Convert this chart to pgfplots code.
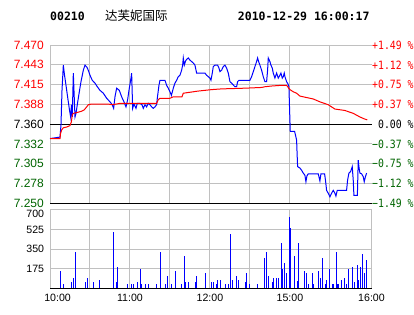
\documentclass[border=0pt]{standalone}
\usepackage{fontspec}
\setmainfont{Liberation Sans}
\newfontfamily\monotitle{DejaVu Sans Mono}
\newfontfamily\monoright{DejaVu Sans Mono}[FakeStretch=0.86]
\newfontfamily\cjk{Noto Sans CJK SC}
\usepackage{pgfplots}
\pgfplotsset{compat=1.18}
\definecolor{gridgray}{RGB}{192,192,192}
\definecolor{dgreen}{RGB}{0,100,0}
\definecolor{pred}{RGB}{255,0,0}
\definecolor{pblue}{RGB}{0,0,255}
\begin{document}
\begin{tikzpicture}
\useasboundingbox (0pt,0pt) rectangle (414pt,-314pt);
\node[anchor=base west, inner sep=0pt, font=\monotitle\bfseries\fontsize{11.5}{12}\selectfont] at (50pt,-20.7pt) {00210};
\node[anchor=base west, inner sep=0pt, font=\cjk\fontsize{12.5}{13}\selectfont] at (105pt,-20.7pt) {达芙妮国际};
\node[anchor=base west, inner sep=0pt, font=\monotitle\bfseries\fontsize{11.5}{12}\selectfont] at (237.7pt,-20.7pt) {2010-12-29 16:00:17};

% main price chart
\begin{axis}[
  at={(50pt,-203.3pt)}, anchor=south west,
  scale only axis, width=321.5pt, height=158.3pt,
  xmin=0, xmax=241.2, ymin=7.25, ymax=7.47,
  xtick={0,30,...,210}, xticklabels={},
  ytick={7.25,7.2775,7.305,7.3325,7.36,7.3875,7.415,7.4425,7.47},
  yticklabels={{\textcolor{dgreen}{7.250}},{\textcolor{dgreen}{7.278}},{\textcolor{dgreen}{7.305}},{\textcolor{dgreen}{7.332}},{\textcolor{black}{7.360}},{\textcolor{pred}{7.388}},{\textcolor{pred}{7.415}},{\textcolor{pred}{7.443}},{\textcolor{pred}{7.470}}},
  yticklabel style={font=\fontsize{12}{12}\selectfont, anchor=east, inner sep=0pt, xshift=-6pt},
  grid=major, major grid style={draw=gridgray, line width=1pt},
  axis line style={draw=none}, major tick length=0pt, tick style={draw=none},
  clip=false,
]
\addplot[black, line width=1pt] coordinates {(0,7.25) (241.2,7.25)};
\addplot[black, line width=1pt] coordinates {(0,7.36) (241.2,7.36)};
\addplot[pblue, line width=1pt] coordinates {
(0,7.340) (7.5,7.342) (8.25,7.359) (9,7.407) (10,7.442) (10.9,7.428) (12,7.414) (13.5,7.394) (14.6,7.380) (15.5,7.370) (16.1,7.387) (16.7,7.370) (17.5,7.431) (18.75,7.370) (19.5,7.375) (20.8,7.391) (22,7.405) (23.25,7.419) (25,7.435) (26.25,7.442) (27.75,7.439) (28.7,7.435) (30,7.428) (31.7,7.421) (33.75,7.417) (35.5,7.412) (37.5,7.407) (40,7.403) (42.5,7.396) (45,7.391) (46.7,7.387) (47.75,7.382) (48.75,7.398) (50,7.410) (52,7.407) (53.75,7.398) (55.5,7.391) (57,7.384) (58.25,7.394) (59.25,7.407) (60.75,7.424) (61.25,7.431) (62,7.382) (63,7.388) (64.5,7.382) (65.5,7.389) (67.5,7.389) (69,7.387) (70,7.382) (71.25,7.387) (72.5,7.384) (73.7,7.389) (75,7.387) (76.25,7.384) (77.5,7.382) (78.75,7.384) (80,7.387) (80.5,7.396) (81.75,7.414) (82.5,7.421) (86.25,7.421) (87.5,7.414) (88.75,7.410) (90,7.405) (91.1,7.400) (92.5,7.410) (93.75,7.417) (95,7.421) (96.25,7.426) (97.5,7.428) (98.75,7.435) (99.5,7.442) (100,7.452) (100.75,7.442) (101.75,7.448) (102.5,7.450) (103.75,7.452) (105,7.449) (106.25,7.447) (107.5,7.445) (108.75,7.442) (110,7.431) (116.25,7.431) (117.5,7.428) (118.75,7.426) (120,7.424) (120.75,7.421) (121.75,7.431) (122.5,7.440) (123.75,7.442) (125.75,7.442) (126.75,7.438) (127.5,7.433) (128.75,7.435) (130,7.440) (131.25,7.442) (132.5,7.438) (133.75,7.431) (135,7.419) (136.25,7.417) (138.75,7.412) (140,7.412) (140.75,7.419) (141.75,7.421) (150,7.421) (151.25,7.426) (152.5,7.433) (153.75,7.440) (155,7.447) (155.75,7.452) (156.5,7.447) (157.5,7.442) (158.75,7.435) (160,7.426) (161.25,7.419) (162.5,7.419) (163.25,7.435) (163.75,7.452) (165,7.447) (165.75,7.442) (166.75,7.438) (167.5,7.431) (168.75,7.424) (170,7.431) (171.25,7.424) (172.5,7.428) (173.25,7.431) (174.25,7.424) (175,7.426) (175.75,7.431) (176.25,7.426) (177.5,7.419) (178.5,7.416) (179.25,7.412) (179.75,7.380) (180.25,7.350) (183.5,7.350) (185,7.338) (185.75,7.301) (187.5,7.299) (188.75,7.296) (190,7.292) (191.25,7.289) (192,7.280) (192.75,7.288) (193.75,7.291) (201.25,7.291) (202.5,7.281) (203.25,7.291) (206,7.291) (206.75,7.281) (207.5,7.268) (208.75,7.264) (210,7.259) (211.25,7.264) (212.5,7.268) (213.75,7.264) (214.5,7.260) (215.5,7.268) (222.5,7.268) (223.25,7.282) (224.25,7.292) (225.5,7.294) (226.75,7.301) (227.5,7.282) (228,7.261) (230.6,7.261) (231.25,7.310) (231.75,7.301) (232.5,7.292) (233.75,7.291) (235,7.287) (235.75,7.280) (236.5,7.286) (237.5,7.292)
};
\addplot[pred, line width=1pt] coordinates {
(0,7.340) (7.5,7.340) (7.9,7.347) (8.75,7.352) (10,7.355) (12.5,7.356) (15,7.358) (16,7.363) (16.75,7.373) (17.5,7.375) (20,7.376) (23.75,7.378) (25.75,7.380) (27.5,7.384) (28.75,7.387) (31.25,7.388) (38.75,7.388) (43.75,7.388) (46.25,7.387) (50,7.388) (52.5,7.389) (80,7.389) (81.25,7.394) (82.5,7.396) (90,7.396) (92.5,7.398) (99,7.398) (100,7.403) (103.75,7.404) (111.25,7.406) (121.25,7.408) (128.75,7.409) (146.25,7.410) (158.75,7.411) (161.25,7.412) (166.25,7.413) (173.75,7.414) (177.5,7.414) (180,7.408) (182.5,7.405) (185,7.403) (187.5,7.399) (192.5,7.397) (197.5,7.395) (202.5,7.391) (208.75,7.387) (213.75,7.381) (221.25,7.379) (227.5,7.375) (232.5,7.370) (236.25,7.367) (238,7.366)
};
\end{axis}

% right percentage labels
\begin{axis}[
  at={(50pt,-203.3pt)}, anchor=south west,
  scale only axis, width=321.5pt, height=158.3pt,
  xmin=0, xmax=241.2, ymin=7.25, ymax=7.47,
  xtick=\empty,
  ytick={7.25,7.2775,7.305,7.3325,7.36,7.3875,7.415,7.4425,7.47},
  yticklabel pos=right,
  yticklabels={{\textcolor{dgreen}{−1.49 \%}},{\textcolor{dgreen}{−1.12 \%}},{\textcolor{dgreen}{−0.75 \%}},{\textcolor{dgreen}{−0.37 \%}},{\textcolor{black}{\phantom{+}0.00 \%}},{\textcolor{pred}{+0.37 \%}},{\textcolor{pred}{+0.75 \%}},{\textcolor{pred}{+1.12 \%}},{\textcolor{pred}{+1.49 \%}}},
  yticklabel style={font=\monoright\fontsize{11.4}{12}\selectfont, anchor=west, inner sep=0pt, xshift=0.5pt},
  axis line style={draw=none}, major tick length=0pt, tick style={draw=none},
]
\addplot[draw=none] coordinates {(0,7.36)};
\end{axis}

% volume chart
\begin{axis}[
  at={(50pt,-288.5pt)}, anchor=south west,
  scale only axis, width=321.5pt, height=78.8pt,
  xmin=0, xmax=241.2, ymin=0, ymax=700,
  xtick={0,30,...,210},
  xticklabels={{\makebox[0pt][l]{\hspace*{-5.7pt}10:00}},,11:00,,12:00,,15:00,},
  extra x ticks={241.2}, extra x tick labels={16:00}, extra x tick style={grid=none},
  ytick={175,350,525,700},
  yticklabels={175,350,525,{\raisebox{-3.5pt}[7.6pt][0pt]{700}}},
  yticklabel style={font=\fontsize{10.6}{11}\selectfont, anchor=east, inner sep=0pt, xshift=-5.7pt},
  xticklabel style={font=\fontsize{10.6}{11}\selectfont, anchor=north, inner sep=0pt, yshift=-5.8pt},
  grid=major, major grid style={draw=gridgray, line width=1pt},
  axis line style={draw=gridgray, line width=1pt}, major tick length=0pt, tick style={draw=none},
  clip=false,
]
\addplot[ycomb, draw=pblue, line width=1pt] coordinates {
(7.7,154) (10,39) (16,56) (17.5,92) (19,323) (26.5,56) (28,92) (32.5,56) (37,74) (47.5,501) (49.7,56) (50.5,190) (58,39) (61,39) (62.5,39) (65.5,56) (67.7,172) (68.5,39) (71.5,39) (73.7,39) (79.7,39) (82.7,323) (86.5,39) (88,110) (91,39) (94,154) (98.5,39) (100.7,288) (101.5,56) (103.7,56) (109,56) (109.7,110) (116.5,136) (121,56) (122.5,56) (124.7,39) (125.5,74) (127.7,74) (131.5,39) (133.7,39) (135.2,483) (136.7,74) (139.7,110) (141.2,74) (146.5,56) (147.2,136) (149.5,39) (155.5,39) (160.7,270) (162.2,323) (163.7,110) (166.7,56) (167.5,92) (169.7,92) (171.2,92) (173.5,403) (174.2,172) (175.7,225) (177.2,136) (179.5,632) (180.2,537) (183.2,288) (185.5,65) (186.2,403) (190.7,154) (192.2,136) (193.7,39) (196.7,136) (197.5,39) (201.2,154) (202.7,92) (204.2,270) (206.5,39) (207.2,74) (209.5,172) (211.7,39) (212.5,39) (214.7,323) (215.5,39) (216.2,39) (218.5,74) (220.7,92) (222.2,39) (223.7,172) (226.7,190) (228.2,56) (230.5,208) (231.2,74) (232.7,190) (234.2,305) (235.7,136) (237.2,252)
};
\addplot[black, line width=1pt] coordinates {(0,0) (241.2,0)};
\end{axis}
\end{tikzpicture}
\end{document}
